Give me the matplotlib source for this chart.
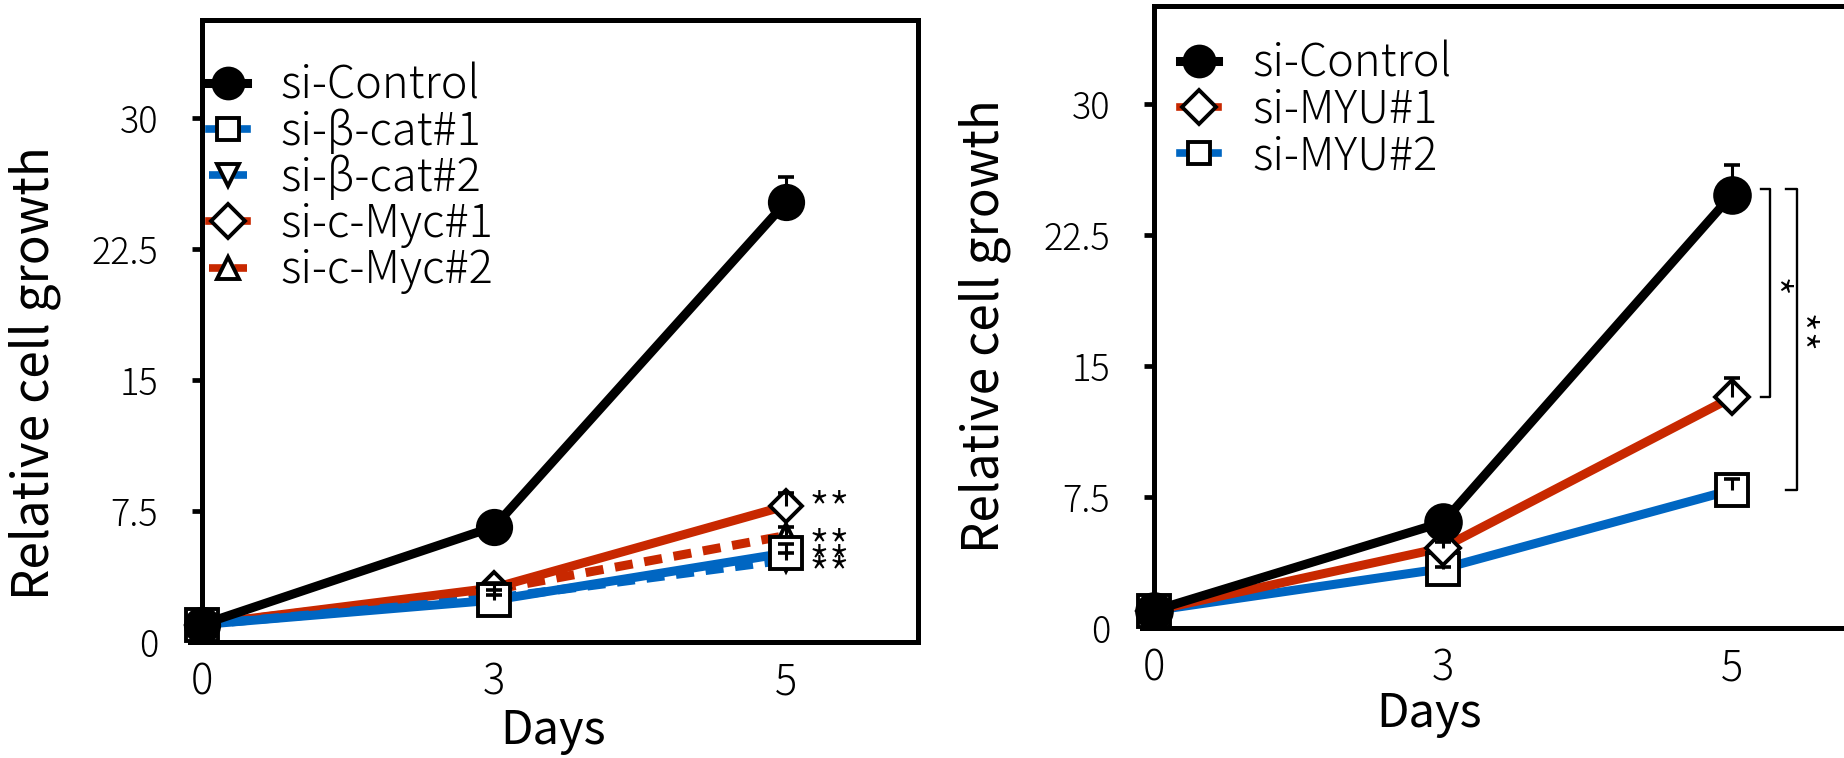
import matplotlib
matplotlib.use('Agg')
import matplotlib.pyplot as plt
from matplotlib.lines import Line2D
from matplotlib import transforms

plt.rcParams['font.family'] = ['Noto Sans CJK JP', 'DejaVu Sans']
plt.rcParams['font.weight'] = 'light'

# ---------------- data ----------------
days = ['0', '3', '5']
ytick_vals = [0, 7.5, 15, 22.5, 30]
ytick_labels = ['0', '7.5', '15', '22.5', '30']

left_labels = ['si-Control', 'si-β-cat#1', 'si-β-cat#2', 'si-c-Myc#1', 'si-c-Myc#2']
ctrl_L = [1.0, 6.6, 25.2]
ctrl_L_err = [0.1, 0.3, 1.4]
bcat1 = [1.0, 2.4, 5.1]
bcat1_err = [0.05, 0.3, 0.5]
bcat2 = [1.0, 2.5, 4.7]
bcat2_err = [0.05, 0.5, 0.4]
myc1 = [1.0, 3.1, 7.8]
myc1_err = [0.05, 0.3, 0.7]
myc2 = [1.0, 3.0, 6.1]
myc2_err = [0.05, 0.3, 0.5]
left_stars = ['**', '**', '**', '**']

right_labels = ['si-Control', 'si-MYU#1', 'si-MYU#2']
ctrl_R = [1.0, 6.05, 24.8]
ctrl_R_err = [0.1, 0.3, 1.7]
myu1 = [1.0, 4.6, 13.2]
myu1_err = [0.05, 0.35, 1.1]
myu2 = [1.0, 3.4, 7.9]
myu2_err = [0.05, 0.1, 0.6]
right_stars = ['*', '**']

# ---------------- style ----------------
BLACK = '#000000'
BLUE = '#0066c2'
RED = '#c82800'
LW = 6.5
SPINE = 3.6
DASH = (2.0, 1.3)

W, H = 1844, 758
fig = plt.figure(figsize=(W / 100, H / 100), dpi=100)

def px_axes(l, r, t, b):
    return fig.add_axes([l / W, (H - b) / H, (r - l) / W, (b - t) / H])

axL = px_axes(202, 918, 20, 642)
axR = px_axes(1154, 1862, 6, 628)

def style_axes(ax):
    ax.set_xlim(0, 2.45)
    ax.set_ylim(0, 35.6)
    for s in ax.spines.values():
        s.set_linewidth(SPINE)
    ax.set_xticks(range(len(days)))
    ax.set_xticklabels(days, fontsize=30)
    ax.set_yticks(ytick_vals)
    ax.set_yticklabels(ytick_labels, fontsize=26)
    ax.tick_params(axis='x', length=0, pad=14)
    ax.tick_params(axis='y', direction='out', length=7.5, width=3.4, pad=24)
    ax.spines['bottom'].set_bounds(-0.04, 2.45)

def draw(ax, series):
    x = list(range(len(days)))
    for y, err, color, ls, marker, ms, mfc in series:
        kw = dict(color=color, lw=LW, zorder=2, clip_on=False,
                  solid_capstyle='butt', dash_capstyle='butt')
        if ls == '--':
            ax.plot(x, y, ls='--', dashes=DASH, **kw)
        else:
            ax.plot(x, y, ls='-', **kw)
    for y, err, color, ls, marker, ms, mfc in series:
        ax.plot(x, y, ls='none', marker=marker, ms=ms, mfc=mfc, mec='black',
                mew=2.8, zorder=3, clip_on=False)
    for y, err, color, ls, marker, ms, mfc in series:
        tops = [v + e for v, e in zip(y, err)]
        ax.vlines(x, y, tops, color='black', lw=2.2, zorder=4)
        ax.plot(x, tops, ls='none', marker='_', ms=12, mew=2.6, color='black',
                zorder=4)

# left series: drawing order back to front
left_series = [
    (myc2, myc2_err, RED, '--', '^', 16, 'white'),
    (myc1, myc1_err, RED, '-', 'D', 16.3, 'white'),
    (bcat2, bcat2_err, BLUE, '--', 'v', 16, 'white'),
    (bcat1, bcat1_err, BLUE, '-', 's', 23, 'white'),
    (ctrl_L, ctrl_L_err, BLACK, '-', 'o', 24, 'black'),
]
right_series = [
    (myu2, myu2_err, BLUE, '-', 's', 22.5, 'white'),
    (myu1, myu1_err, RED, '-', 'D', 17.5, 'white'),
    (ctrl_R, ctrl_R_err, BLACK, '-', 'o', 25, 'black'),
]

style_axes(axL)
style_axes(axR)
draw(axL, left_series)
draw(axR, right_series)

# labels
for ax, xl, yx, yy in [(axL, (0.49, -0.143), -0.233, 0.432),
                       (axR, (0.388, -0.138), -0.239, 0.486)]:
    ax.set_xlabel('Days', fontsize=34)
    ax.xaxis.set_label_coords(*xl)
    ax.xaxis.label.set_va('center')
    ax.set_ylabel('Relative cell growth', fontsize=35.5)
    ax.yaxis.set_label_coords(yx, yy)
    ax.yaxis.label.set_va('center')

# legends
def leg_handle(color, ls, marker, ms, mfc, lw=5.5):
    h = Line2D([], [], color=color, lw=lw, ls=ls, marker=marker, ms=ms,
               mfc=mfc, mec='black', mew=2.8)
    if ls == '--':
        h.set_dashes(DASH)
    return h

hL = [leg_handle(BLACK, '-', 'o', 21.5, 'black', 6.5),
      leg_handle(BLUE, '-', 's', 16.5, 'white'),
      leg_handle(BLUE, '--', 'v', 16.5, 'white'),
      leg_handle(RED, '-', 'D', 17.8, 'white'),
      leg_handle(RED, '--', '^', 16.5, 'white')]
hR = [leg_handle(BLACK, '-', 'o', 21.5, 'black', 6.5),
      leg_handle(RED, '-', 'D', 17.8, 'white'),
      leg_handle(BLUE, '-', 's', 16.5, 'white')]

for ax, handles, labels, anchor in [(axL, hL, left_labels, (0.0098, 0.932)),
                                    (axR, hR, right_labels, (0.037, 0.945))]:
    ax.legend(handles, labels, loc='upper left', bbox_to_anchor=anchor,
              frameon=False, fontsize=32.5, handlelength=0.84, handletextpad=0.75,
              labelspacing=-0.03, borderpad=0, borderaxespad=0)

# significance marks, left panel
star_y_L = [8.2, 6.0, 5.1, 4.5]
for s, yv in zip(left_stars, star_y_L):
    axL.text(2.075, yv, s, fontsize=34, ha='left', va='center',
             transform=axL.transData + transforms.ScaledTranslation(0, -0.15, fig.dpi_scale_trans))

# significance brackets, right panel
xb1, xb1t = 2.13, 2.10
xb2, xb2t = 2.225, 2.187
top = ctrl_R[-1] + 0.3
for xb, xt, bottom, s, xs in [(xb1, xb1t, myu1[-1], right_stars[0], 2.17),
                              (xb2, xb2t, myu2[-1], right_stars[1], 2.262)]:
    axR.plot([xt, xb, xb, xt], [top, top, bottom, bottom], color='black', lw=1.7,
             clip_on=False, zorder=5)
    axR.text(xs, (top + bottom) / 2 + 0.3, s, fontsize=33, rotation=-90,
             ha='center', va='center',
             transform=axR.transData + transforms.ScaledTranslation(-0.15, 0, fig.dpi_scale_trans))

fig.savefig('out.png', dpi=100)
